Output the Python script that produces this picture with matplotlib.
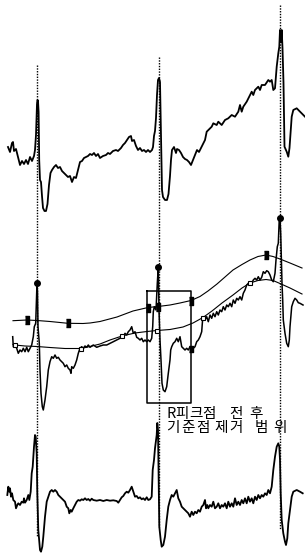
import matplotlib
matplotlib.use("Agg")
import matplotlib.pyplot as plt

plt.rcParams['font.family'] = ['Noto Sans CJK KR', 'DejaVu Sans']

# raw ECG (top)
raw_x = [8, 10, 12, 13, 14, 16, 18, 20, 22, 24, 26, 28, 30, 32, 34, 35, 36, 37, 37.5, 38, 38.6, 39.2, 40, 41, 42, 43, 44.5, 46, 47.5, 49,
         50.5, 52, 54, 56, 58, 60, 62, 64, 66, 68, 70, 72, 74, 76, 78, 80, 82, 84, 86, 88, 90, 92, 94, 96, 98, 100, 103, 106, 108, 110,
         113, 116, 118, 121, 123, 125, 127, 129, 131, 132, 134, 136, 138, 140, 142, 144, 146, 148, 150, 152, 153, 154, 155, 156, 157, 158,
         159, 160, 160.5, 161, 161.5, 162, 163, 165, 167, 168.5, 170, 171, 172, 174, 176, 177, 179, 181, 183, 185, 187, 189, 191, 193, 195,
         197, 199, 201.7, 205, 206.7, 210, 211.7, 213.3, 216.7, 218.3, 221.7, 225, 228.3, 231.7, 235, 238.3, 240, 241.7, 243.3, 246.7, 250,
         251.7, 253.3, 255, 258.3, 260, 261.7, 265, 268.3, 270, 271.7, 273.3, 275, 276.7, 278.3, 279.3, 280, 281, 281.7, 282.5, 283.5,
         284.5, 286.7, 288.3, 289.5, 290.5, 291.7, 293.3, 296.7, 300, 305]
raw_y = [147, 152, 143, 142, 151, 149, 157, 165, 161, 164, 160, 164, 157, 161, 156, 150, 135, 104, 100, 101, 112, 160, 180, 182, 196, 208, 211, 211, 204, 185,
         173, 170, 167, 165, 168, 167, 171, 173, 175, 177, 176, 182, 177, 178, 170, 162, 161, 158, 157, 156, 154, 155, 153, 156, 154, 158, 156, 155, 153, 154,
         151, 150, 151, 148, 145, 143, 140, 137, 136, 141, 140, 146, 150, 148, 151, 150, 152, 150, 152, 150, 147, 136, 131, 118, 95, 80,
         78, 82, 110, 135, 170, 190, 197, 200, 200, 194, 176, 160, 150, 147, 153, 149, 150, 153, 157, 159, 160, 162, 165, 160, 155,
         150, 152, 146.7, 140, 131.7, 128.3, 126.7, 123.3, 125, 121.7, 125, 120, 118.3, 115, 116.7, 111.7, 105, 111.7, 106.7, 101.7, 95,
         91.7, 95, 90, 86.7, 90, 85, 85, 80, 81.7, 80, 90, 88.3, 66.7, 53.3, 46.7, 30, 42, 30, 48, 83,
         146.7, 151.7, 156.7, 148, 133.3, 116.7, 110, 108.3, 111.7, 116.7]

# ECG with reference points and envelope (middle)
mid_x = [12.7, 13.3, 15, 16.7, 18.3, 20, 21.7, 23.3, 25, 26.7, 28.3, 30, 31.7, 33.3, 34.3, 35.7, 36.5, 37, 37.5, 38, 39.3, 40, 41, 42.3, 43.3,
         45, 46.7, 48.3, 50, 51.7, 53.3, 55, 56.7, 58.3, 60, 61.7, 63.3, 65, 66.7, 68.3, 70, 71, 71.7, 73.3, 75, 76.7, 78.3, 80, 81.7, 83.3,
         85, 86.7, 88.3, 90, 93.3, 96.7, 100, 103.3, 106.7, 110, 113.3, 116.7, 120, 121.7, 123.3, 125, 126.7, 128.3, 130, 131.7, 133.3, 135,
         136.7, 138.3, 140, 141.7, 143.3, 145, 146.7, 148.3, 150, 151.7, 152.7, 153.3, 154.3, 156, 157.3, 158.3, 159, 160, 161, 162, 163.3,
         165, 166.7, 168.3, 170, 170.7, 171.7, 173.3, 175, 176.7, 178.3, 180, 181.7, 183.3, 185, 186.7, 188.3, 190, 191.7, 193.3, 195, 196.7,
         198.3, 200, 201.7, 202.7, 203.3, 205, 206.7, 208.3, 210, 211.7, 213.3, 215, 216.7, 218.3, 220, 221.7, 223.3, 225, 226.7, 228.3, 230,
         231.7, 233.3, 235, 236.7, 238.3, 240, 241.7, 243.3, 245, 246.7, 248.3, 250, 251.7, 253.3, 255, 256.7, 258.3, 260, 261.7, 263.3, 265,
         266.7, 268.3, 270, 271.7, 273.3, 275, 276, 277.3, 278.3, 279.3, 280, 280.7, 281.3, 282, 282.7, 283.3, 285, 286.7, 288.3, 289.3, 290,
         291.7, 293.3, 295, 296.7, 298.3, 300, 303]
mid_y = [336.7, 346.7, 345, 348.3, 353.3, 350, 351.7, 348.3, 351.7, 347.3, 351.7, 348.3, 345, 336.7, 326.7, 323.3, 300, 283, 292, 326.7, 343.3, 370, 393.3, 406.7, 410,
         400, 386.7, 370, 361.7, 356.7, 358.3, 355, 358.3, 357.3, 360, 361.7, 363.3, 366.7, 365, 368.3, 370, 373.3, 366.7, 368.3, 365, 360, 353.3, 348.3, 346.7, 348.3,
         346, 347.3, 345, 347.3, 345, 347.3, 346, 345, 345, 343.3, 341.7, 340, 338.3, 336, 337.3, 333.3, 335, 331.7, 330, 326.7, 333.3, 331.7,
         337.3, 338.3, 340, 338.3, 341.7, 340, 341.7, 340, 341.7, 338.3, 326.7, 311.7, 306.7, 310, 283.3, 267, 310, 340, 360, 383.3, 390,
         391.7, 386.7, 373.3, 360, 350, 346.7, 343.3, 341.7, 338.3, 341.7, 336.7, 346.7, 348.3, 350, 348.3, 350, 346.7, 350, 348.3, 346.7, 341.7,
         340, 336.7, 331.7, 318.3, 316.7, 320, 316.7, 321.7, 315, 318.3, 313.3, 316.7, 311.7, 315, 310, 311.7, 306.7, 310, 305, 306.7, 303.3,
         306.7, 300, 303.3, 298.3, 300, 296.7, 300, 293.3, 290, 285, 283.3, 281.7, 283.3, 280, 278.3, 280, 276.7, 280, 277.3, 271.7, 273.3,
         270.7, 271.7, 275, 280, 281.7, 273.3, 260, 246.7, 243.3, 218.3, 218.3, 233.3, 256.7, 283.3, 300, 320, 333.3, 343.3, 346.7, 340, 326.7,
         306.7, 301.7, 298.3, 300, 302.7, 303.3, 305]

upper_x = [13, 27, 37, 50, 68, 83, 90, 100, 117, 133, 148, 158, 170, 180, 191, 200, 208, 217, 225, 233, 242, 250, 258, 266, 273, 280, 290, 302]
upper_y = [320.7, 320, 320.5, 321.5, 323.3, 323.5, 323, 321.5, 317, 311, 307.5, 306.5, 305, 303, 300.5, 296.5, 291, 284, 277, 270, 264.5, 260, 256.5, 255, 256.5, 259, 263, 268]
lower_x = [13, 15, 25, 37, 50, 65, 81, 92, 100, 110, 122, 135, 147, 157, 170, 183, 193, 203, 212, 222, 233, 242, 250, 258, 266, 273, 280, 290, 302]
lower_y = [344.5, 345, 346, 346.5, 347.5, 348.5, 348.5, 346, 344, 340, 336, 333, 331.5, 330.5, 329.5, 327, 323, 317.5, 311, 303, 295, 288, 283, 280.5, 279.5, 280.5, 283.5, 288, 294]

upper_mark_x = [27, 68, 148, 158, 191, 266]
upper_mark_y = [320, 323.3, 307.5, 306.5, 300.5, 255]
lower_mark_x = [15, 81, 122, 157, 203, 250]
lower_mark_y = [345, 348.5, 336, 330.5, 317.5, 283]
r_peak_x = [37, 158.3, 280]
r_peak_y = [283, 267, 218.3]

# baseline-corrected ECG (bottom)
bot_x = [7.3, 8.3, 9.3, 10, 11, 12, 13.3, 15, 16, 17.3, 18.3, 20, 21.7, 23.3, 24, 25, 26.7, 28.3, 29.3, 30.7, 31.7, 32.7, 34, 35, 35.7, 36.7,
         37.3, 38.3, 39, 40, 41, 42.3, 43.3, 45, 46.7, 48.3, 50, 51.7, 53.3, 55, 56.7, 58.3, 60, 61.7, 63.3, 65, 66.7, 68.3, 69.3, 70.7, 71.7,
         73.3, 75, 76.7, 78.3, 80, 81.7, 83.3, 85, 86.7, 88.3, 90, 91.7, 93.3, 96.7, 100, 103.3, 106.7, 110, 113.3, 116.7, 118.3, 120, 121.7,
         123.3, 125, 126.7, 128.3, 130, 131.7, 133.3, 135, 136.7, 138.3, 140, 141.7, 143.3, 145, 146.7, 148.3, 150, 151.7, 152.7, 154, 155,
         156.7, 157.3, 158, 158.7, 159.3, 160.7, 161.7, 163.3, 165, 166.7, 168.3, 170, 171.7, 173.3, 175, 176.7, 178.3, 180, 181.7, 183.3, 185,
         186.7, 188.3, 190, 191.7, 193.3, 195, 196.7, 198.3, 200, 201.7, 203.3, 205, 206, 207.3, 208.3, 210, 211.7, 213.3, 215, 216.7, 218.3,
         220, 221.7, 223.3, 225, 226.7, 228.3, 230, 231.7, 233.3, 235, 236.7, 238.3, 240, 241.7, 243.3, 245, 246.7, 248.3, 250, 251.7, 253.3,
         255, 256.7, 258.3, 260, 261.7, 263.3, 265, 266.7, 268.3, 270, 271.7, 273.3, 275, 276.7, 278.3, 279.3, 280, 280.7, 281.7, 283.3, 285,
         286, 287.3, 288.3, 290, 291.7, 293.3, 296.7, 300, 302.7]
bot_y = [495, 486.7, 491.7, 488.3, 496.7, 493.3, 500, 501.7, 508.3, 505, 503.3, 505, 501.7, 502.7, 498.3, 502.7, 500, 495, 500, 491.7, 473.3, 466.7, 446.7, 435, 436.7, 453.3,
         493.3, 530, 538.3, 550, 551.7, 546.7, 536.7, 516.7, 501.7, 496.7, 491.7, 490, 491.7, 490, 491.7, 495, 496.7, 498.3, 500, 501.7, 506.7, 508.3, 513.3, 510, 511.7,
         508.3, 505, 501.7, 500, 500.7, 499.3, 500, 498.3, 500, 499, 500.7, 498.7, 500, 500.7, 500, 501, 500, 500.7, 500.3, 501, 502.7, 500, 497.3,
         496, 493.3, 491.7, 492.7, 490, 486.7, 491.7, 496.7, 496, 498.3, 497.3, 499.3, 498.3, 500, 497.3, 500, 499.3, 496.7, 470, 460, 448.3,
         435, 423, 430, 483, 526.7, 540, 546.7, 545, 536.7, 520, 506.7, 500, 495, 496.7, 493.3, 490, 498.3, 501.7, 506.7, 508.3, 510,
         511.7, 513.3, 516.7, 511.7, 515, 511.7, 513.3, 510, 511.7, 506.7, 505, 500, 508.3, 505, 508.3, 505, 506.7, 501.7, 508.3, 506.7, 503.3,
         508.3, 505, 506.7, 503.3, 508.3, 501.7, 506.7, 503.3, 506.7, 498.3, 505, 501.7, 505, 500, 503.3, 498.3, 503.3, 496.7, 501.7, 498.3, 503.3,
         496.7, 500, 495, 498.3, 495, 496.7, 493.3, 495, 490, 493.3, 486.7, 470, 456.7, 446.7, 443.3, 446.7, 460, 493.3, 520, 533.3, 541.7,
         545, 538.3, 523.3, 510, 496.7, 491.7, 490, 491.7, 493.3]

# dotted R-peak markers: (x, top, bottom)
rline_x = [37, 159, 280]
rline_top = [65, 57, 5]
rline_bot = [537, 527, 529]

# excluded range around the R peak
box_x = [147, 191]
box_y = [291, 403]

label_lines = ['R피크점 전후', '기준점 제거 범위']

fig = plt.figure(figsize=(3.05, 5.56), dpi=100)
ax = fig.add_axes([0, 0, 1, 1])
ax.set_xlim(0, 305)
ax.set_ylim(556, 0)
ax.axis('off')

for x, t, b in zip(rline_x, rline_top, rline_bot):
    ax.plot([x, x], [t, b], color='black', lw=1.0, linestyle=(0, (1, 1)))

ax.plot(raw_x, raw_y, color='black', lw=1.3)
ax.plot(mid_x, mid_y, color='black', lw=1.1)
ax.plot(bot_x, bot_y, color='black', lw=1.3)

ax.plot(upper_x, upper_y, color='black', lw=0.8)
ax.plot(lower_x, lower_y, color='black', lw=0.8)

rect = [(-0.5, -1), (0.5, -1), (0.5, 1), (-0.5, 1)]
ax.plot(upper_mark_x, upper_mark_y, linestyle='none', marker=rect, ms=6, color='black')
ax.plot([191], [349], linestyle='none', marker=rect, ms=5, color='black')
ax.plot(lower_mark_x, lower_mark_y, linestyle='none', marker='s', ms=3.5,
        mfc='white', mec='black', mew=0.8)
ax.plot(r_peak_x, r_peak_y, linestyle='none', marker='o', ms=4, color='black')

ax.plot([box_x[0], box_x[1], box_x[1], box_x[0], box_x[0]],
        [box_y[0], box_y[0], box_y[1], box_y[1], box_y[0]], color='black', lw=1.1)

# label set one glyph at a time to get the wide spacing of the original
glyph_left = [[166, 175, 189, 202, 229, 249],
              [166, 181, 196, 214, 229, 255, 273]]
for row, line in enumerate(label_lines):
    for ch, gx in zip(line.replace(' ', ''), glyph_left[row]):
        ax.text(gx, 407 + row * 14, ch, fontsize=10.5, va='top', ha='left', color='black')

fig.savefig('out.png', dpi=100)
